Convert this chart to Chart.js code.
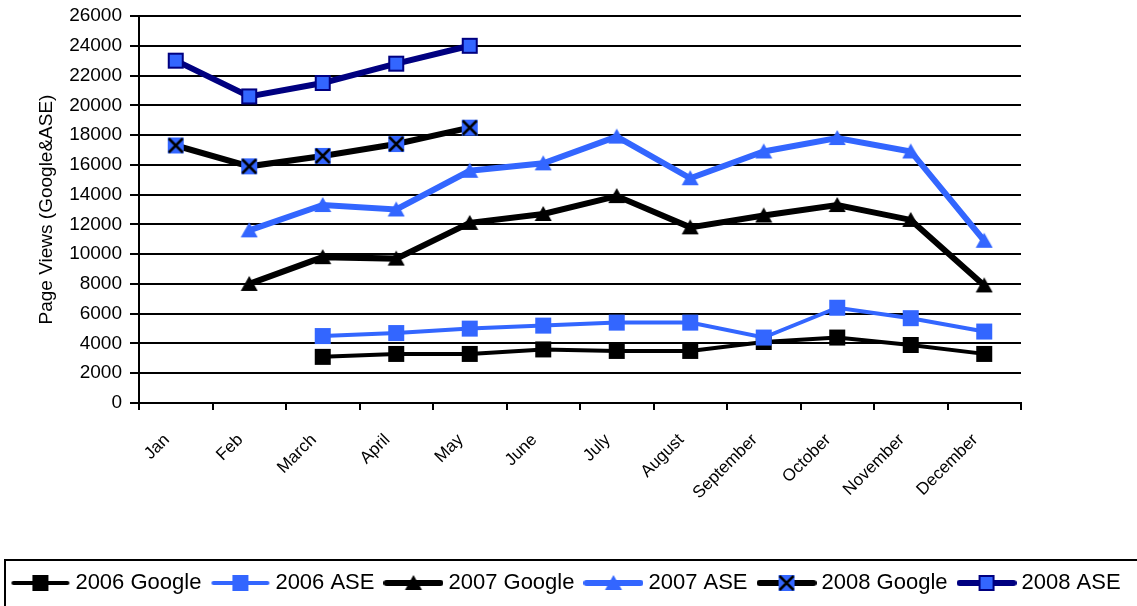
<!DOCTYPE html>
<html>
<head>
<meta charset="utf-8">
<script src="https://cdn.jsdelivr.net/npm/chart.js@4"></script>
<style>
  html, body { margin: 0; padding: 0; background: #fff; }
  #wrap { width: 1137px; height: 606px; }
</style>
</head>
<body>
<div id="wrap"><canvas id="line-chart" width="1137" height="606"></canvas></div>
<script>
const months = ['Jan', 'Feb', 'March', 'April', 'May', 'June', 'July', 'August', 'September', 'October', 'November', 'December'];
const google2006 = [null, null, 3100, 3300, 3300, 3600, 3500, 3500, 4100, 4400, 3900, 3300];
const ase2006 = [null, null, 4500, 4700, 5000, 5200, 5400, 5400, 4400, 6400, 5700, 4800];
const google2007 = [null, 8000, 9800, 9700, 12100, 12700, 13900, 11800, 12600, 13300, 12300, 7900];
const ase2007 = [null, 11600, 13300, 13000, 15600, 16100, 17900, 15100, 16900, 17800, 16900, 10900];
const google2008 = [17300, 15900, 16600, 17400, 18500, null, null, null, null, null, null, null];
const ase2008 = [23000, 20600, 21500, 22800, 24000, null, null, null, null, null, null, null];
const seriesNames = ['2006 Google', '2006 ASE', '2007 Google', '2007 ASE', '2008 Google', '2008 ASE'];
const yTicks = [0, 2000, 4000, 6000, 8000, 10000, 12000, 14000, 16000, 18000, 20000, 22000, 24000, 26000];

const BLUE = '#3366ff';
const NAVY = '#000080';
const FONT = "'Liberation Sans', Arial, sans-serif";

// markers drawn on small canvases, used as pointStyle
function marker(kind) {
  const c = document.createElement('canvas');
  c.width = 18; c.height = 18;
  const g = c.getContext('2d');
  if (kind === 'sqBlack' || kind === 'sqBlue') {
    g.fillStyle = kind === 'sqBlack' ? '#000' : BLUE;
    g.fillRect(1, 1, 16, 16);
  } else if (kind === 'triBlack' || kind === 'triBlue') {
    g.fillStyle = kind === 'triBlack' ? '#000' : BLUE;
    g.beginPath();
    g.moveTo(9, 1); g.lineTo(17.5, 16); g.lineTo(0.5, 16);
    g.closePath(); g.fill();
  } else if (kind === 'sqX') {
    g.fillStyle = BLUE;
    g.fillRect(1, 1, 16, 16);
    g.strokeStyle = '#000'; g.lineWidth = 2.5;
    g.beginPath();
    g.moveTo(2, 2); g.lineTo(16, 16);
    g.moveTo(16, 2); g.lineTo(2, 16);
    g.stroke();
  } else if (kind === 'sqNavy') {
    g.fillStyle = BLUE;
    g.fillRect(2, 2, 14, 14);
    g.strokeStyle = NAVY; g.lineWidth = 2;
    g.strokeRect(2, 2, 14, 14);
  }
  return c;
}

// legend icon: line with marker in the middle
function legendIcon(color, width, kind) {
  const c = document.createElement('canvas');
  c.width = 60; c.height = 20;
  const g = c.getContext('2d');
  g.strokeStyle = color; g.lineWidth = width; g.lineCap = 'round';
  g.beginPath(); g.moveTo(3, 10); g.lineTo(57, 10); g.stroke();
  g.drawImage(marker(kind), 21, 1);
  return c;
}

const styles = [
  {color: '#000', width: 4, kind: 'sqBlack'},
  {color: BLUE, width: 4, kind: 'sqBlue'},
  {color: '#000', width: 6, kind: 'triBlack'},
  {color: BLUE, width: 6, kind: 'triBlue'},
  {color: '#000', width: 6, kind: 'sqX'},
  {color: NAVY, width: 6, kind: 'sqNavy'},
];
const values = [google2006, ase2006, google2007, ase2007, google2008, ase2008];

const legendBox = {
  id: 'legendBox',
  afterDraw(chart) {
    const lg = chart.legend;
    const ctx = chart.ctx;
    ctx.save();
    ctx.strokeStyle = '#000';
    ctx.lineWidth = 2;
    ctx.strokeRect(5, lg.top + 3, 1200, 100);
    ctx.restore();
  }
};

function createLineChart() {
  const ctx = document.getElementById('line-chart').getContext('2d');
  const datasets = values.map((data, i) => ({
    label: seriesNames[i],
    data: data,
    borderColor: styles[i].color,
    backgroundColor: styles[i].color,
    borderWidth: styles[i].width,
    pointStyle: marker(styles[i].kind),
    pointRadius: 9,
    pointHoverRadius: 9,
    tension: 0,
    order: 10 - i,
    icon: legendIcon(styles[i].color, styles[i].width, styles[i].kind),
  }));

  new Chart(ctx, {
    type: 'line',
    data: { labels: months, datasets: datasets },
    options: {
      responsive: false,
      animation: false,
      layout: { padding: { left: 0, right: 0, top: 16, bottom: 2 } },
      plugins: {
        tooltip: { enabled: false },
        legend: {
          position: 'bottom',
          labels: {
            usePointStyle: true,
            pointStyleWidth: 48,
            padding: 15,
            color: '#000',
            font: { family: FONT, size: 22 },
            generateLabels: (chart) => chart.data.datasets.map((ds, i) => ({
              text: ds.label,
              pointStyle: ds.icon,
              fillStyle: ds.borderColor,
              strokeStyle: ds.borderColor,
              lineWidth: 0,
              datasetIndex: i,
              hidden: false,
            })),
          },
        },
      },
      scales: {
        x: {
          offset: true,
          afterFit: (scale) => { scale.height = 154; },
          grid: {
            offset: true,
            drawOnChartArea: false,
            drawTicks: true,
            tickLength: 7,
            color: '#000',
            lineWidth: 2,
          },
          border: { display: true, color: '#000', width: 2 },
          ticks: {
            color: '#000',
            font: { family: FONT, size: 17 },
            maxRotation: 45,
            minRotation: 45,
            padding: 20,
            labelOffset: -9,
            autoSkip: false,
          },
        },
        y: {
          min: 0,
          max: 26000,
          afterFit: (scale) => {
            scale.width = 139;
            scale.paddingTop = 0;
            scale.paddingBottom = 0;
          },
          afterBuildTicks: (scale) => { scale.ticks = yTicks.map(v => ({ value: v })); },
          grid: {
            color: '#000',
            lineWidth: 2,
            tickLength: 9,
          },
          border: { display: true, color: '#000', width: 2 },
          ticks: {
            color: '#000',
            font: { family: FONT, size: 19 },
            padding: 8,
            callback: (v) => String(v),
          },
          title: {
            display: true,
            text: 'Page Views (Google&ASE)',
            color: '#000',
            font: { family: FONT, size: 19 },
            padding: { top: 35, bottom: 0 },
          },
        },
        // empty strip on the right of the plot
        spacer: {
          position: 'right',
          axis: 'y',
          afterFit: (scale) => {
            scale.width = 116;
            scale.paddingTop = 0;
            scale.paddingBottom = 0;
          },
          grid: { display: false },
          border: { display: false },
          ticks: { display: false },
        },
      },
    },
    plugins: [legendBox],
  });
}

document.addEventListener('DOMContentLoaded', () => {
  createLineChart();
});
</script>
</body>
</html>
